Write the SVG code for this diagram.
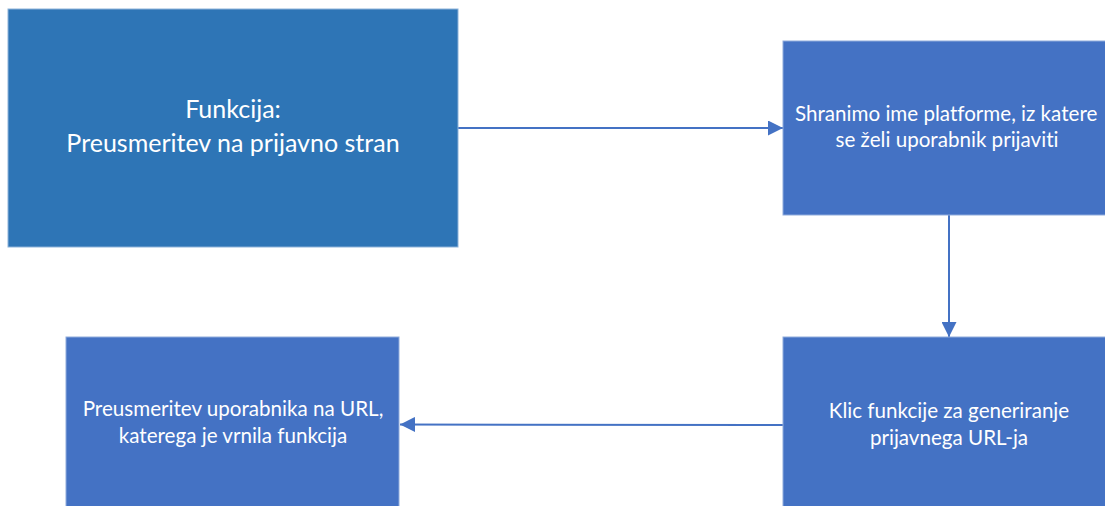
<svg xmlns="http://www.w3.org/2000/svg" width="1105" height="506" viewBox="0 0 1105 506">
  <style>
    .box { fill: #4472C4; stroke: #8fabdc; stroke-width: 1; }
    .main { fill: #2E75B6; stroke: #8db3d9; stroke-width: 1; }
    .lbl { font-family: Lato, "Liberation Sans", sans-serif; fill: #ffffff; text-anchor: middle; font-variant-ligatures: none; }
    .big { font-size: 25px; }
    .sm { font-size: 20.6px; }
    .edge { stroke: #4472C4; stroke-width: 2; fill: none; marker-end: url(#arrow); }
  </style>
  <defs>
    <marker id="arrow" viewBox="0 0 10 10" refX="10" refY="5" markerWidth="7.5" markerHeight="7.5" markerUnits="strokeWidth" orient="auto">
      <path d="M0,0 L10,5 L0,10 Z" fill="#4472C4"/>
    </marker>
  </defs>
  <rect width="1105" height="506" fill="#ffffff"/>

  <g id="connectors">
    <line class="edge" x1="458" y1="128" x2="783" y2="128"/>
    <line class="edge" x1="949" y1="215" x2="949" y2="337"/>
    <path class="edge" d="M783,425 C600,424 500,424 400,424.5"/>
  </g>

  <g id="node-start">
    <rect class="main" x="8" y="9" width="450" height="238"/>
    <text class="lbl big" x="233" y="118">Funkcija:</text>
    <text class="lbl big" x="233" y="152">Preusmeritev na prijavno stran</text>
  </g>

  <g id="node-store">
    <rect class="box" x="783" y="41" width="340" height="174"/>
    <text class="lbl sm" x="795" y="121" style="text-anchor:start">Shranimo ime platforme, iz katere</text>
    <text class="lbl sm" x="947" y="147">se želi uporabnik prijaviti</text>
  </g>

  <g id="node-generate">
    <rect class="box" x="783" y="337" width="340" height="180"/>
    <text class="lbl sm" x="949" y="418">Klic funkcije za generiranje</text>
    <text class="lbl sm" x="949" y="445">prijavnega URL-ja</text>
  </g>

  <g id="node-redirect">
    <rect class="box" x="66" y="337" width="333" height="180"/>
    <text class="lbl sm" x="233" y="416">Preusmeritev uporabnika na URL,</text>
    <text class="lbl sm" x="233" y="443">katerega je vrnila funkcija</text>
  </g>
</svg>
